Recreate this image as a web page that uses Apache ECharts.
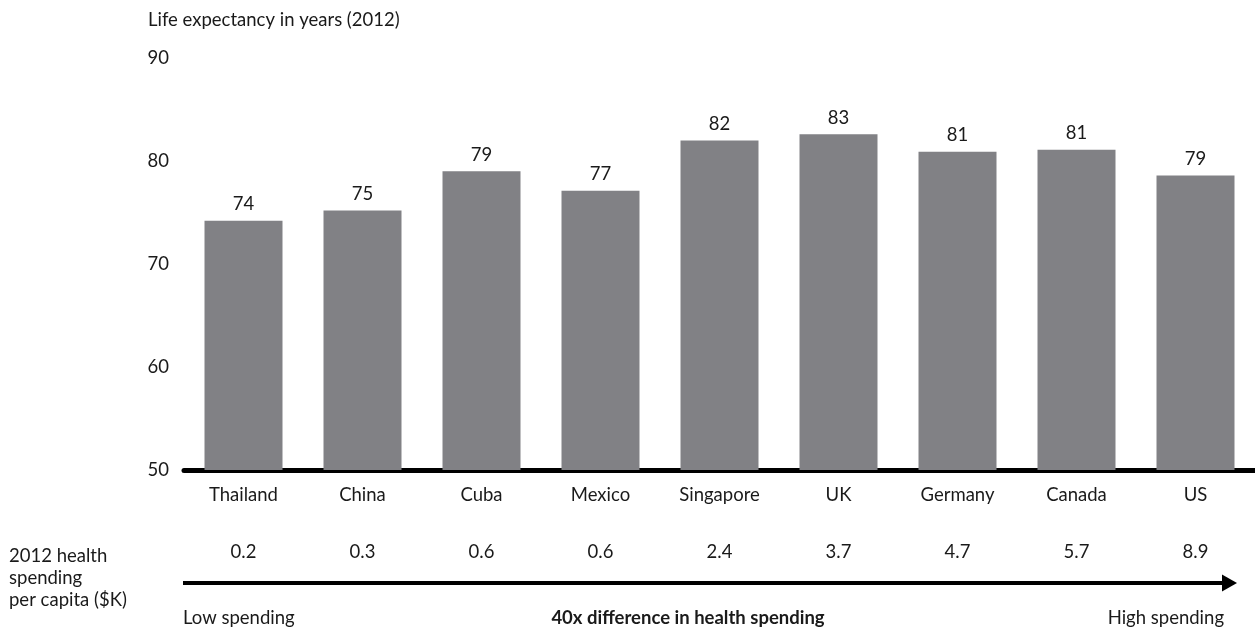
<!DOCTYPE html>
<html>
<head>
<meta charset="utf-8">
<script src="https://cdn.jsdelivr.net/npm/echarts@6/dist/echarts.min.js"></script>
<style>
html,body{margin:0;padding:0;background:#fff;}
#chart{width:1255px;height:632px;}
</style>
</head>
<body>
<div id="chart"></div>
<script>
const categories = ['Thailand', 'China', 'Cuba', 'Mexico', 'Singapore', 'UK', 'Germany', 'Canada', 'US'];
const lifeExpectancy = [74.2, 75.2, 79.0, 77.1, 82.0, 82.6, 80.9, 81.1, 78.6];
const spending = ['0.2', '0.3', '0.6', '0.6', '2.4', '3.7', '4.7', '5.7', '8.9'];
const yMin = 50, yMax = 90, yStep = 10;
const titleText = 'Life expectancy in years (2012)';
const sideLabel = '2012 health\nspending\nper capita ($K)';
const lowText = 'Low spending';
const midText = '40x difference in health spending';
const highText = 'High spending';

const FONT = 'Lato';
const FS = 18.5;
const TXT = '#1a1a1a';
const chart = echarts.init(document.getElementById('chart'));
chart.setOption({
  animation: false,
  backgroundColor: '#ffffff',
  textStyle: { fontFamily: FONT },
  grid: { left: 184, top: 58, width: 1074, height: 412, containLabel: false },
  xAxis: [
    {
      type: 'category', data: categories, gridIndex: 0, position: 'bottom',
      axisLine: { show: true, lineStyle: { color: '#000', width: 5 } },
      axisTick: { show: false },
      axisLabel: { color: TXT, fontSize: FS, fontFamily: FONT, margin: 16 }
    },
    {
      type: 'category', data: spending, gridIndex: 0, position: 'bottom', offset: 60,
      axisLine: { show: false }, axisTick: { show: false },
      axisLabel: { color: TXT, fontSize: FS, fontFamily: FONT, margin: 13 }
    }
  ],
  yAxis: {
    type: 'value', min: yMin, max: yMax, interval: yStep,
    axisLine: { show: false }, axisTick: { show: false }, splitLine: { show: false },
    axisLabel: { color: TXT, fontSize: FS, fontFamily: FONT, margin: 15 }
  },
  series: [{
    type: 'bar', data: lifeExpectancy, barWidth: 78, xAxisIndex: 0,
    itemStyle: { color: '#818185' },
    label: {
      show: true, position: 'top', distance: 7, color: TXT, fontSize: FS, fontFamily: FONT,
      formatter: p => String(Math.round(p.value))
    }
  }],
  graphic: [
    { type: 'text', left: 148, top: 11, style: { text: titleText, fill: TXT, fontSize: FS, fontFamily: FONT } },
    { type: 'text', left: 9, top: 545, style: { text: sideLabel, fill: TXT, fontSize: FS, fontFamily: FONT, lineHeight: 22 } },
    { type: 'line', shape: { x1: 183, y1: 583, x2: 1224, y2: 583 }, style: { stroke: '#000', lineWidth: 4 } },
    { type: 'polygon', shape: { points: [[1222, 574.5], [1237, 583], [1222, 591.5]] }, style: { fill: '#000' } },
    { type: 'text', left: 183, top: 609, style: { text: lowText, fill: TXT, fontSize: FS, fontFamily: FONT } },
    { type: 'text', x: 688, y: 609, style: { text: midText, fill: TXT, fontSize: FS, fontFamily: FONT, fontWeight: 'bold', align: 'center' } },
    { type: 'text', x: 1224, y: 609, style: { text: highText, fill: TXT, fontSize: FS, fontFamily: FONT, align: 'right' } }
  ]
});
</script>
</body>
</html>
